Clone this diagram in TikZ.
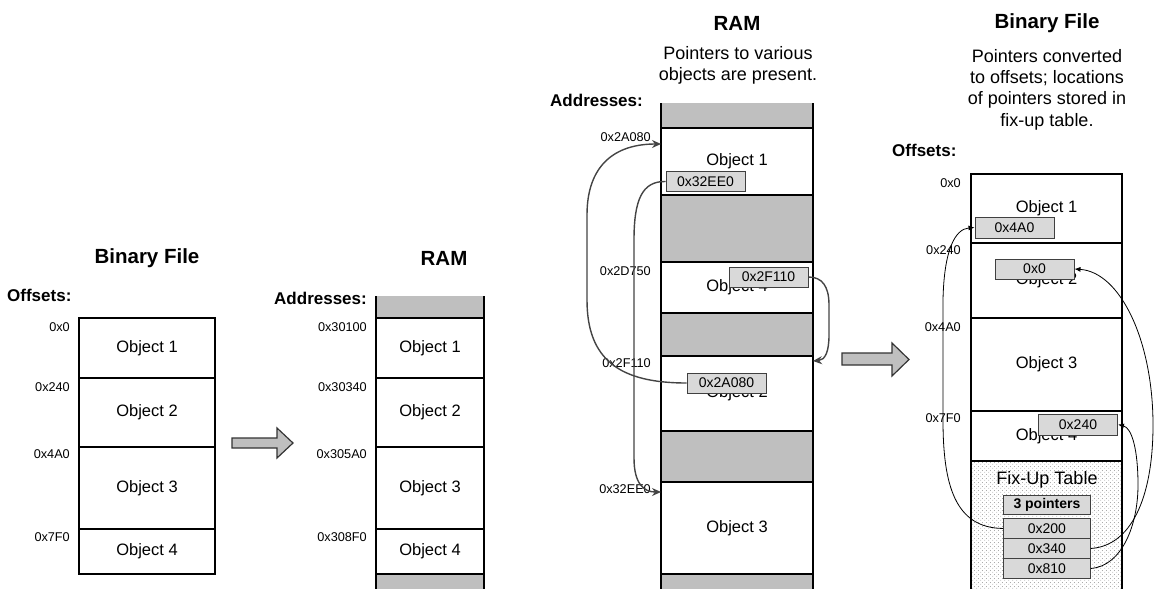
\documentclass[tikz,border=0pt]{standalone}
\usepackage{fontspec}
\setmainfont{Liberation Sans}
\usetikzlibrary{arrows.meta,patterns}
\pgfdeclarepatternformonly{sparsedots}{\pgfpointorigin}{\pgfqpoint{4pt}{4pt}}{\pgfqpoint{4pt}{4pt}}{%
  \pgfpathcircle{\pgfqpoint{1pt}{1pt}}{0.55pt}%
  \pgfpathcircle{\pgfqpoint{3pt}{3pt}}{0.55pt}%
  \pgfusepath{fill}}
\definecolor{secgray}{RGB}{191,191,191}
\definecolor{ptrgray}{RGB}{217,217,217}
\definecolor{arrgray}{RGB}{68,68,68}
\tikzset{
  title/.style={font=\fontsize{20.5}{24}\selectfont\bfseries, inner sep=0},
  hdr/.style={font=\fontsize{17}{20}\selectfont\bfseries, inner sep=0},
  desc/.style={font=\fontsize{18}{21.3}\selectfont, align=center, inner sep=0},
  lbl/.style={font=\fontsize{12.7}{15}\selectfont, anchor=east, inner sep=0},
  sec/.style={draw, line width=1.2, inner sep=0, outer sep=0, anchor=north west, font=\fontsize{16.5}{19}\selectfont},
  gsec/.style={fill=secgray, inner sep=0, outer sep=0, anchor=north west},
  ptr/.style={draw=black!75, fill=ptrgray, line width=0.9, inner sep=0, minimum width=79, minimum height=20, font=\fontsize{14}{16}\selectfont},
  fx/.style={draw=black!75, fill=ptrgray, line width=0.9, inner sep=0, minimum width=87, minimum height=20, font=\fontsize{14}{16}\selectfont, anchor=north west},
  ramarrow/.style={draw=arrgray, line width=1.4, -{Stealth[length=9,width=8]}},
  fixarrow/.style={draw=black, line width=0.8, -{Latex[length=6,width=5]}},
  bigarrow/.style={draw=black!80, fill=secgray, line width=1.2, line join=miter},
}
\begin{document}
\begin{tikzpicture}[x=1pt,y=-1pt]
\useasboundingbox (0,0) rectangle (1157,589);
\clip (0,0) rectangle (1157,589);

% ---------------- Panel 1: Binary File ----------------
\node[title] (t1) at (147,258) {Binary File};
\node[hdr, anchor=west] (h1) at (7,295) {Offsets:};
\node[sec, minimum width=136, minimum height=60] (a1) at (79,318) {Object 1};
\node[sec, minimum width=136, minimum height=69] (a2) at (79,378) {Object 2};
\node[sec, minimum width=136, minimum height=82] (a3) at (79,447) {Object 3};
\node[sec, minimum width=136, minimum height=45] (a4) at (79,529) {Object 4};
\node[lbl] (la1) at (70,327) {0x0};
\node[lbl] (la2) at (70,387) {0x240};
\node[lbl] (la3) at (70,454) {0x4A0};
\node[lbl] (la4) at (70,537) {0x7F0};

% big arrow 1
\draw[bigarrow] (232,438) -- (277,438) -- (277,428) -- (293,443) -- (277,458) -- (277,448) -- (232,448) -- cycle;

% ---------------- Panel 2: RAM ----------------
\node[title] (t2) at (444,258) {RAM};
\node[hdr, anchor=east] (h2) at (367,298) {Addresses:};
\node[gsec, minimum width=108, minimum height=22] (bg1) at (376,296) {};
\node[gsec, minimum width=108, minimum height=30] (bg2) at (376,574) {};
\draw[line width=1.2] (376,296) -- (376,600) (484,296) -- (484,600);
\node[sec, minimum width=108, minimum height=60] (b1) at (376,318) {Object 1};
\node[sec, minimum width=108, minimum height=69] (b2) at (376,378) {Object 2};
\node[sec, minimum width=108, minimum height=82] (b3) at (376,447) {Object 3};
\node[sec, minimum width=108, minimum height=45] (b4) at (376,529) {Object 4};
\node[lbl] (lb1) at (367,327) {0x30100};
\node[lbl] (lb2) at (367,387) {0x30340};
\node[lbl] (lb3) at (367,454) {0x305A0};
\node[lbl] (lb4) at (367,537) {0x308F0};

% ---------------- Panel 3: RAM with pointers ----------------
\node[title] (t3) at (737,23) {RAM};
\node[desc] (d3) at (738,65.5) {Pointers to various\\objects are present.};
\node[hdr, anchor=west] (h3) at (550,100) {Addresses:};
\node[gsec, minimum width=152, minimum height=25] (cg1) at (661,103) {};
\node[gsec, minimum width=152, minimum height=67] (cg2) at (661,195) {};
\node[gsec, minimum width=152, minimum height=43] (cg3) at (661,313) {};
\node[gsec, minimum width=152, minimum height=51] (cg4) at (661,431) {};
\node[gsec, minimum width=152, minimum height=30] (cg5) at (661,574) {};
\draw[line width=1.2] (661,103) -- (661,600) (813,103) -- (813,600);
\node[sec, minimum width=152, minimum height=67] (c1) at (661,128) {Object 1};
\node[sec, minimum width=152, minimum height=51] (c4) at (661,262) {Object 4};
\node[sec, minimum width=152, minimum height=75] (c2) at (661,356) {Object 2};
\node[sec, minimum width=152, minimum height=92] (c3) at (661,482) {Object 3};
\draw[line width=1.2] (661,195) -- (813,195) (661,313) -- (813,313) (661,431) -- (813,431) (661,574) -- (813,574);
\node[lbl] (lc1) at (651,137) {0x2A080};
\node[lbl] (lc4) at (651,271) {0x2D750};
\node[lbl] (lc2) at (651,363) {0x2F110};
\node[lbl] (lc3) at (651,489) {0x32EE0};
\node[ptr] (p1) at (705.5,181.5) {0x32EE0};
\node[ptr] (p4) at (768.5,277) {0x2F110};
\node[ptr] (p2) at (726.5,383) {0x2A080};
\coordinate (tc1) at (661,144);
\coordinate (tc3) at (661,492);
\coordinate (tc2) at (813,361);
\draw[ramarrow] (p2.west) .. controls (620,383) and (587,360) .. (587,300) -- (587,215) .. controls (587,165) and (615,144) .. (tc1);
\draw[ramarrow] (p1.west) .. controls (642,181) and (634,200) .. (634,240) -- (634,458) .. controls (634,484) and (644,492) .. (tc3);
\draw[ramarrow] (p4.east) .. controls (822,277) and (829,286) .. (829,305) -- (829,335) .. controls (829,352) and (825,360) .. (tc2);

% big arrow 2
\draw[bigarrow] (842,353) -- (892,353) -- (892,343) -- (909,359.5) -- (892,376) -- (892,365) -- (842,365) -- cycle;

% ---------------- Panel 4: Binary File with fix-ups ----------------
\node[title] (t4) at (1047,23) {Binary File};
\node[desc] (d4) at (1047,89.5) {Pointers converted\\to offsets; locations\\of pointers stored in\\fix-up table.};
\node[hdr, anchor=west] (h4) at (892,150) {Offsets:};
\node[sec, minimum width=151, minimum height=69] (e1) at (971,174) {Object 1};
\node[sec, minimum width=151, minimum height=75] (e2) at (971,243) {Object 2};
\node[sec, minimum width=151, minimum height=93] (e3) at (971,318) {Object 3};
\node[sec, minimum width=151, minimum height=50] (e4) at (971,411) {Object 4};
\node[sec, line width=1.6, pattern=sparsedots, pattern color=black!45, minimum width=151, minimum height=140] (efix) at (971,461) {};
\node[font=\fontsize{18}{21}\selectfont, inner sep=0] (fxt) at (1047,480) {Fix-Up Table};
\node[fx, font=\fontsize{14}{16}\selectfont\bfseries, minimum height=19] (f0) at (1003,495) {3 pointers};
\node[fx] (f1) at (1003,518) {0x200};
\node[fx] (f2) at (1003,538) {0x340};
\node[fx] (f3) at (1003,558) {0x810};
\node[lbl] (le1) at (961,183) {0x0};
\node[lbl] (le2) at (961,250) {0x240};
\node[lbl] (le3) at (961,327) {0x4A0};
\node[lbl] (le4) at (961,418) {0x7F0};
\node[ptr, minimum height=21] (q1) at (1014.5,227.5) {0x4A0};
\node[ptr] (q2) at (1034.5,269) {0x0};
\node[ptr, minimum height=21] (q4) at (1078,424.5) {0x240};
\draw[fixarrow] (f1.west) .. controls (955,528) and (943,485) .. (943,420) -- (943,300) .. controls (944,250) and (955,229) .. (q1.west);
\draw[fixarrow] (f2.east) .. controls (1130,546) and (1153,500) .. (1153,425) .. controls (1153,340) and (1120,272) .. (q2.east);
\draw[fixarrow] (f3.east) .. controls (1122,566) and (1138,525) .. (1138,485) .. controls (1138,450) and (1132,428) .. (q4.east);
\end{tikzpicture}
\end{document}
